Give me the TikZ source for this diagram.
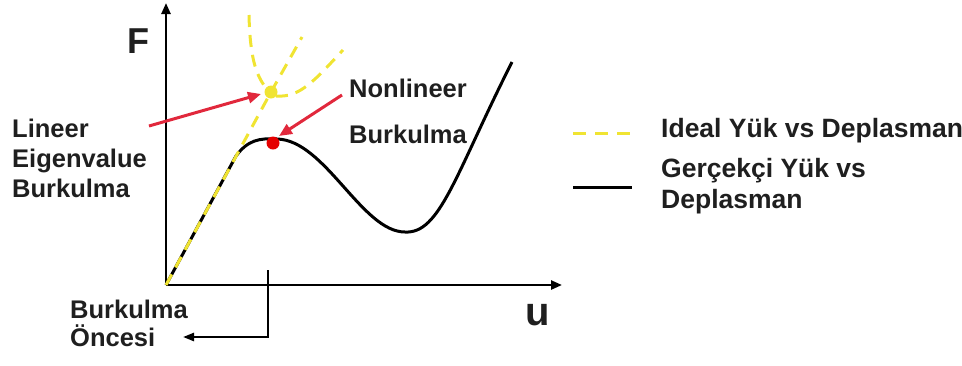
\documentclass[tikz,border=0pt]{standalone}
\usepackage{fontspec}
\setmainfont{Liberation Sans}
\usetikzlibrary{arrows.meta}
\definecolor{idealyellow}{RGB}{240,228,50}
\definecolor{arrred}{RGB}{225,40,60}
\tikzset{
  axis/.style={line width=2.4pt,-{Triangle[length=11pt,width=9pt]}},
  ideal/.style={idealyellow,line width=3pt,dash pattern=on 12pt off 8pt},
  real/.style={black,line width=3pt},
  redarrow/.style={arrred,line width=3pt,-{Triangle[length=13pt,width=11pt]}},
  lbl/.style={font=\bfseries\fontsize{25.5}{30}\selectfont,anchor=base west,inner sep=0pt,text=black!88},
  leg/.style={font=\bfseries\fontsize{26.5}{30}\selectfont,anchor=base west,inner sep=0pt,text=black!88},
  bigl/.style={font=\bfseries\fontsize{36}{40}\selectfont,anchor=base west,inner sep=0pt,text=black!88},
}
\begin{document}
\begin{tikzpicture}[x=1pt,y=-1pt]
\useasboundingbox (0,0) rectangle (962,365);
% axes
\coordinate (O) at (166,285);
\coordinate (ytop) at (166,3);
\coordinate (xend) at (562,285);
\draw[axis] (O) -- (ytop);
\draw[axis] (O) -- (xend);
\node[bigl] (F) at (127,53) {F};
\node[bigl,font=\bfseries\fontsize{40}{44}\selectfont] (u) at (525,325) {u};
% tick and Burkulma Oncesi
\coordinate (tk1) at (268,270);
\coordinate (tk2) at (268,337);
\coordinate (tk3) at (183,337);
\draw[line width=2.4pt,-{Triangle[length=11pt,width=8pt]}] (tk1) -- (tk2) -- (tk3);
\node[lbl] (bo1) at (70,318) {Burkulma};
\node[lbl] (bo2) at (70,346) {Öncesi};
% real curve
\coordinate (peak) at (277,139);
\draw[real] (O) -- (236,156) .. controls (248,140) and (259,138) .. (peak)
  .. controls (325,140) and (362,232) .. (405,232)
  .. controls (440,234) and (455,175) .. (512,62);
% ideal curves
\coordinate (bif) at (271,92);
\draw[ideal] (O) -- (bif);
\draw[ideal] (249,15) .. controls (250,55) and (255,75) .. (267,89);
\draw[ideal] (bif) -- (302,37);
\draw[ideal] (276,96) .. controls (300,98) and (315,80) .. (343,50);
\fill[idealyellow] (bif) circle (6.5pt);
\fill[red!90!black] (273,143) circle (6.5pt);
% red arrows
\coordinate (ra1s) at (149,126);
\coordinate (ra1e) at (261,94);
\draw[redarrow] (ra1s) -- (ra1e);
\coordinate (ra2s) at (342,95);
\coordinate (ra2e) at (279,136);
\draw[redarrow] (ra2s) -- (ra2e);
% labels
\node[lbl] (l1) at (12,137) {Lineer};
\node[lbl] (l2) at (12,167) {Eigenvalue};
\node[lbl] (l3) at (12,197) {Burkulma};
\node[lbl] (n1) at (349,97) {Nonlineer};
\node[lbl] (n2) at (349,143) {Burkulma};
% legend
\coordinate (lg1a) at (573,133);
\coordinate (lg1b) at (633,133);
\draw[ideal,dash pattern=on 13pt off 9pt] (lg1a) -- (lg1b);
\coordinate (lg2a) at (573,187);
\coordinate (lg2b) at (632,187);
\draw[real] (lg2a) -- (lg2b);
\node[leg] (t1) at (661,137) {Ideal Yük vs Deplasman};
\node[leg] (t2) at (661,177) {Gerçekçi Yük vs};
\node[leg] (t3) at (661,208) {Deplasman};
\end{tikzpicture}
\end{document}
